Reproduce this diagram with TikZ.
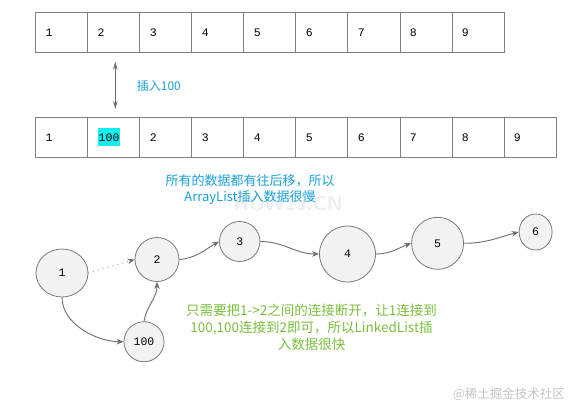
\documentclass[tikz,border=0pt]{standalone}
\usepackage{fontspec}
\setmainfont{Liberation Serif}
\newfontfamily\cjk{Noto Sans CJK SC}
\newfontfamily\digitfont{Liberation Mono}
\usetikzlibrary{arrows.meta,shapes.geometric}
\definecolor{cellline}{HTML}{7F7F7F}
\definecolor{hl}{HTML}{14EEF0}
\definecolor{bluetxt}{HTML}{1AA0D8}
\definecolor{greentxt}{HTML}{7CBF3E}
\definecolor{linkgray}{HTML}{6E6E6E}
\definecolor{dotgray}{HTML}{8C8C8C}
\definecolor{circline}{HTML}{7A7A7A}
\definecolor{circfill}{HTML}{F2F2F2}
\definecolor{wmgray}{HTML}{C4C4C4}
\definecolor{wmfaint}{HTML}{ECEEF1}
\tikzset{
  cell/.style={draw=cellline, line width=0.8pt, minimum height=39.6pt,
    inner xsep=10pt, inner ysep=0pt, text width=32.03pt, align=left,
    anchor=west, font=\digitfont\fontsize{11.5}{13}\selectfont},
  circ/.style={ellipse, draw=circline, line width=0.8pt, fill=circfill,
    inner sep=0pt, font=\digitfont\fontsize{11.5}{13}\selectfont},
  link/.style={draw=linkgray, line width=0.9pt,
    -{Stealth[length=7pt,width=5.5pt]}},
  bluelbl/.style={text=bluetxt, font=\cjk\fontsize{13}{15.6}\selectfont, align=center},
  greenlbl/.style={text=greentxt, font=\cjk\fontsize{13.5}{17}\selectfont, align=center}
}
\newcommand{\hlbox}[1]{{\setlength\fboxsep{1pt}\colorbox{hl}{\rule[-4pt]{0pt}{16.4pt}#1}}}
\begin{document}
\begin{tikzpicture}[x=1pt,y=1pt]
\useasboundingbox (0,0) rectangle (570,405);
\fill[white] (0,0) rectangle (570,405);

% faint watermark
\node[text=wmfaint, font=\sffamily\bfseries\fontsize{20}{22}\selectfont] (wm2) at (288,201) {HOW2J.CN};

% top array
\foreach \t [count=\i from 0] in {1,2,3,4,5,6,7,8,9}{
  \node[cell] (ta\i) at ({35.3+52.03*\i},372.3) {\t};
}
% bottom array
\foreach \t [count=\i from 0] in {1,\hlbox{100},2,3,4,5,6,7,8,9}{
  \node[cell] (ba\i) at ({35.3+52.03*\i},267.7) {\t};
}

% insert arrow
\coordinate (arrT) at (115.3,343.3);
\coordinate (arrB) at (115.3,296);
\draw[draw=linkgray, line width=0.9pt,
  {Stealth[length=8pt,width=4.5pt]}-{Stealth[length=8pt,width=4.5pt]}] (arrT) -- (arrB);
\node[anchor=west, text=bluetxt, font=\cjk\fontsize{12}{14}\selectfont, inner sep=0pt] (ins) at (136.7,319.3) {插入100};

% blue explanation
\node[bluelbl] (blue) at (250,215.5) {所有的数据都有往后移，所以\\ArrayList插入数据很慢};

% linked list nodes
\node[circ, minimum width=52pt, minimum height=48pt] (n1) at (62,132) {1};
\node[circ, minimum width=44pt, minimum height=44pt] (n2) at (157,145.5) {2};
\node[circ, minimum width=40.5pt, minimum height=40pt] (n3) at (239.7,163.5) {3};
\node[circ, minimum width=56pt, minimum height=56pt] (n4) at (347.5,151) {4};
\node[circ, minimum width=52pt, minimum height=52pt] (n5) at (437.6,161.7) {5};
\node[circ, minimum width=33pt, minimum height=36pt] (n6) at (535.6,173) {6};
\node[circ, minimum width=40pt, minimum height=40pt] (n100) at (144,63.3) {100};

% connectors
\draw[draw=dotgray, line width=1.1pt, line cap=round, dash pattern=on 0.1pt off 5pt,
  -{Stealth[length=7pt,width=5.5pt,color=linkgray,fill=linkgray]}] (n1.east) -- (n2.west);
\draw[link] (n1.south) to[out=-90,in=180,looseness=0.9] (n100.west);
\draw[link] (n100.north) to[out=80,in=-90] (n2.south);
\draw[link] (n2.east) to[out=5,in=210] (n3.west);
\draw[link] (n3.east) to[out=0,in=180] (n4.west);
\draw[link] (n4.east) to[out=0,in=200] (n5.west);
\draw[link] (n5.east) to[out=0,in=195] (n6.west);

% green explanation
\node[greenlbl] (green) at (311.5,78) {只需要把1->2之间的连接断开，让1连接到\\100,100连接到2即可，所以LinkedList插\\入数据很快};

% watermark
\node[anchor=east, text=wmgray, font=\cjk\fontsize{12.5}{14}\selectfont, inner sep=0pt] (wm) at (565,11) {@稀土掘金技术社区};
\end{tikzpicture}
\end{document}
